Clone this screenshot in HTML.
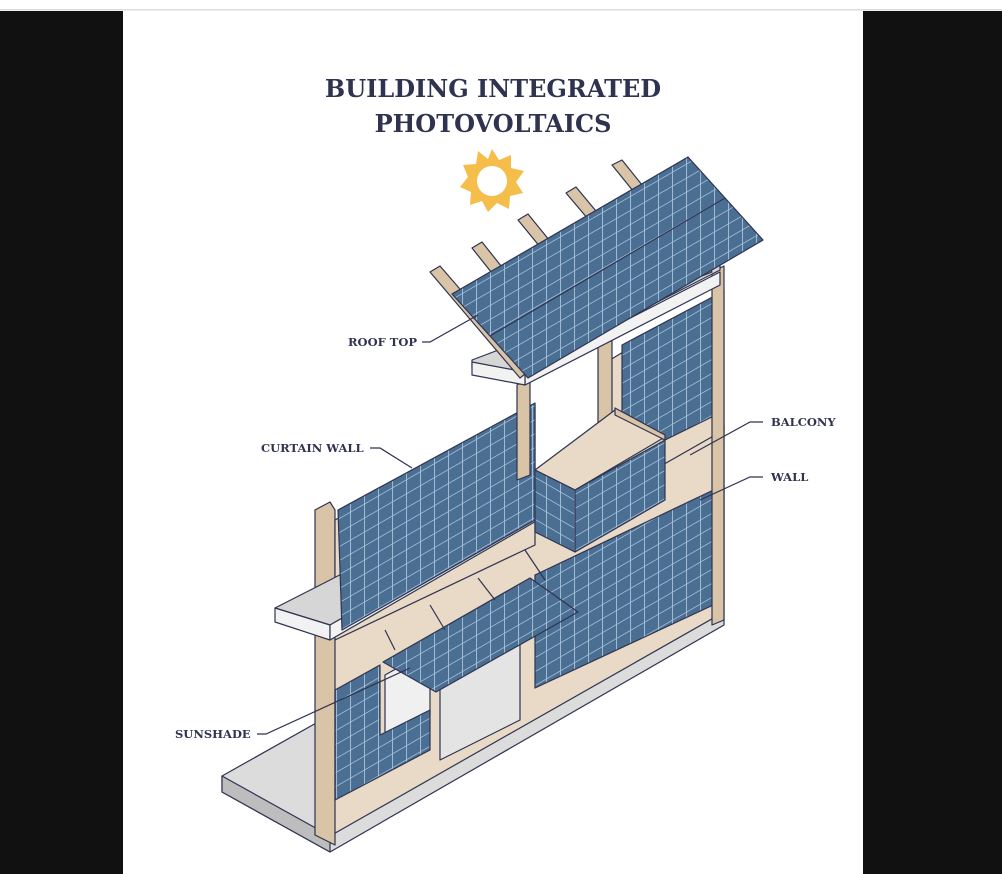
<!DOCTYPE html>
<html><head><style>
html,body{margin:0;padding:0;width:1002px;height:874px;overflow:hidden;background:#fff}
</style></head><body>
<svg width="1002" height="874" viewBox="0 0 1002 874" xmlns="http://www.w3.org/2000/svg">
<defs>
<pattern id="g" width="14" height="14" patternUnits="userSpaceOnUse" patternTransform="skewY(-30)">
<rect width="14" height="14" fill="#4b6f92"/>
<path d="M0 0H14M0 0V14" stroke="#a9c3dc" stroke-width="1.8"/>
</pattern>
<pattern id="g2" width="14" height="14" patternUnits="userSpaceOnUse" patternTransform="skewY(30)">
<rect width="14" height="14" fill="#4b6f92"/>
<path d="M0 0H14M0 0V14" stroke="#a9c3dc" stroke-width="1.8"/>
</pattern>
</defs>
<rect x="0" y="0" width="1002" height="874" fill="#fff"/>
<rect x="0" y="9" width="1002" height="1.5" fill="#ddd"/>
<rect x="0" y="11" width="123" height="863" fill="#111"/>
<rect x="863" y="11" width="139" height="863" fill="#111"/>

<g font-family="'DejaVu Serif','Liberation Serif',serif" font-weight="bold" fill="#2f3350">
<text x="493" y="97" font-size="24" text-anchor="middle">BUILDING INTEGRATED</text>
<text x="493" y="132" font-size="24" text-anchor="middle">PHOTOVOLTAICS</text>
<g font-size="11.5">
<text x="348" y="346">ROOF TOP</text>
<text x="261" y="452">CURTAIN WALL</text>
<text x="771" y="426">BALCONY</text>
<text x="771" y="481">WALL</text>
<text x="175" y="738">SUNSHADE</text>
</g>
</g>

<g transform="translate(492,181)">
<polygon fill="#f5bd4a" points="0,-32 7,-21 19,-26 19,-13 32,-10 24,1 31,12 18,15 17,28 5,22 -4,31 -10,20 -22,24 -21,11 -32,6 -24,-4 -29,-16 -16,-17 -14,-30 -4,-22"/>
<circle r="15" fill="#fff"/>
</g>

<g stroke="#2f3350" stroke-width="1.2" stroke-linejoin="round">
<polygon fill="#dcdcdc" points="222,776 318,722 318,812 330,835 724,612 724,625 330,852 222,792"/>
<polygon fill="#bdbdbd" points="222,776 330,836 330,852 222,792"/>
<polygon fill="#e8dac6" points="330,640 724,425 724,612 330,836"/>
<polygon fill="#d9c4a8" points="315,510 330,502 335,510 335,845 315,835"/>
<polygon fill="#e8dac6" points="335,520 535,405 535,545 335,640"/>
<polygon fill="#f0f0f0" points="385,675 430,650 430,715 385,740"/>
<polygon fill="#e4e4e4" points="440,665 520,620 520,720 440,760"/>
<polygon fill="url(#g)" points="335,690 380,665 380,735 430,710 430,750 335,800"/>
<polygon fill="url(#g)" points="535,575 724,485 724,600 535,688"/>
<polygon fill="#d6d6d6" points="275,608 330,580 560,460 590,476 330,625"/>
<polygon fill="#f2f2f2" points="275,608 330,625 330,640 275,622"/>
<polygon fill="#f2f2f2" points="330,625 590,476 590,490 330,640"/>
<polygon fill="url(#g)" points="338,510 535,403 535,520 342,630"/>
<polygon fill="#e8dac6" points="610,360 724,290 724,430 610,495"/>
<polygon fill="url(#g)" points="622,345 722,292 722,412 665,440 622,420"/>
<polygon fill="#d9c4a8" points="517,385 530,378 530,475 517,480"/>
<polygon fill="#d9c4a8" points="598,342 612,335 612,470 598,475"/>
<polygon fill="#d9c4a8" points="712,272 724,266 724,620 712,625"/>
<polygon fill="#e8dac6" points="535,470 615,410 665,437 575,490"/>
<polygon fill="#d9c4a8" points="615,408 665,435 665,440 615,415"/>
<polygon fill="url(#g2)" points="535,470 575,490 575,552 535,532"/>
<polygon fill="url(#g)" points="575,490 665,440 665,500 575,552"/>
<polygon fill="#d6d6d6" points="472,360 525,340 720,262 720,270 525,370 472,368"/>
<polygon fill="#f2f2f2" points="525,372 720,272 720,285 525,385"/>
<polygon fill="#f2f2f2" points="472,362 525,372 525,385 472,375"/>
<g fill="#d9c4a8">
<polygon points="430,272 440,266 530,370 520,378"/>
<polygon points="472,248 482,242 560,340 550,346"/>
<polygon points="518,220 528,214 610,315 600,320"/>
<polygon points="566,193 576,187 660,288 650,292"/>
<polygon points="612,165 622,160 712,272 702,276"/>
</g>
<polygon fill="url(#g)" points="452,294 688,157 763,240 528,378"/>
<line x1="490" y1="336" x2="725" y2="198"/>
<polygon fill="url(#g)" points="383,662 530,578 578,612 436,692"/>
</g>

<g stroke="#2f3350" stroke-width="1.2" fill="none">
<polyline points="422,342 430,342 478,315"/>
<polyline points="370,448 380,448 412,468"/>
<polyline points="763,422 750,422 690,455"/>
<polyline points="763,477 750,477 700,500"/>
<polyline points="257,734 266,734 410,668"/>
<line x1="385" y1="630" x2="395" y2="650"/>
<line x1="430" y1="605" x2="445" y2="630"/>
<line x1="478" y1="578" x2="495" y2="600"/>
<line x1="525" y1="550" x2="545" y2="580"/>
</g>
</svg>
</body></html>
